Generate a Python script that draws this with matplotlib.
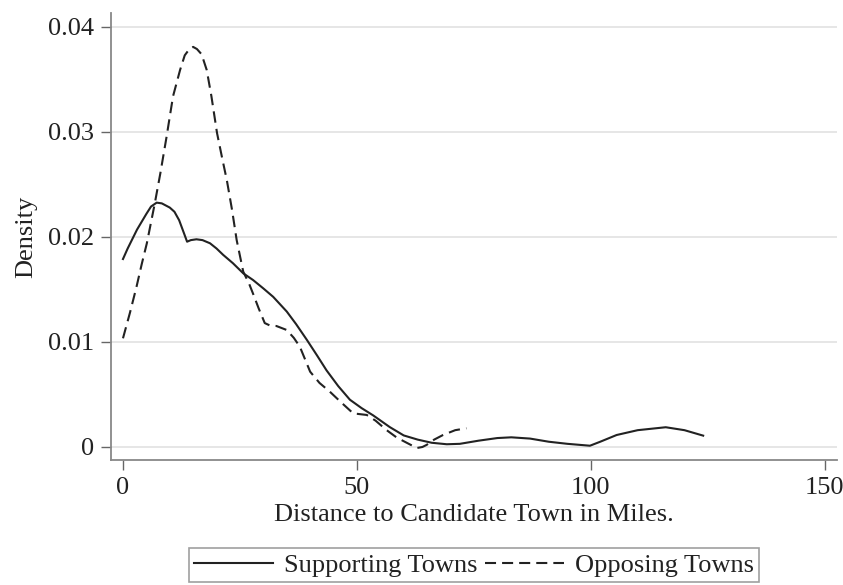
import matplotlib
matplotlib.use("Agg")
import matplotlib.pyplot as plt
from matplotlib.lines import Line2D

# kernel density curves
support_x = [0, 1, 3, 5, 6, 7.2, 8.3, 10, 11, 12, 13, 13.7, 14.5, 15.7, 17,
             18.6, 20, 21.4, 23.5, 25.7, 27.8, 30, 32.1, 35, 37, 39.3, 41.5,
             43.5, 46, 48.5, 51, 53.5, 57, 60, 63, 66, 69.2, 72, 76, 80, 83,
             87, 91, 95, 99.8, 102, 105.5, 110, 116, 120, 124]
support_y = [0.0179, 0.0189, 0.0207, 0.0222, 0.0229, 0.02327, 0.0232, 0.0228,
             0.0224, 0.0216, 0.0204, 0.01955, 0.0197, 0.01978, 0.0197, 0.0194,
             0.0189, 0.0183, 0.0175, 0.01654, 0.0159, 0.0151, 0.0143, 0.0129,
             0.0117, 0.0102, 0.0087, 0.0073, 0.0058, 0.0045, 0.0037, 0.0030,
             0.0019, 0.0011, 0.0007, 0.0004, 0.00026, 0.0003, 0.0006, 0.00085,
             0.00092, 0.0008, 0.0005, 0.0003, 0.00012, 0.0005, 0.00114, 0.0016,
             0.00188, 0.0016, 0.00108]

oppose_x = [0, 1.5, 2.9, 4, 5.1, 6.8, 8, 9.3, 10.7, 12.2, 13.2, 14.2, 15, 15.8,
            16.8, 17.9, 18.9, 20.1, 21.2, 22.2, 23.3, 24.3, 25.7, 27, 27.8, 29,
            30.3, 31.5, 32.8, 35, 36.5, 37.8, 40, 42, 44.2, 46.5, 49.2, 52.1,
            54, 56.3, 58.5, 60.6, 62.8, 64, 64.9, 66.5, 68.4, 71, 73.4]
oppose_y = [0.01035, 0.0128, 0.01527, 0.0174, 0.0194, 0.0232, 0.0261, 0.0295,
            0.0334, 0.0359, 0.0373, 0.0379, 0.0381, 0.0379, 0.0374, 0.0359,
            0.0334, 0.0299, 0.0275, 0.0254, 0.0226, 0.0197, 0.0167, 0.0155,
            0.0146, 0.0132, 0.0118, 0.01155, 0.01152, 0.01114, 0.0104, 0.00955,
            0.00717, 0.0061, 0.00527, 0.0043, 0.0032, 0.00305, 0.0025, 0.00162,
            0.0009, 0.00041, -0.0001, 0.0, 0.0002, 0.0007, 0.00114, 0.0016,
            0.00178]

x_ticks = [0, 50, 100, 150]
y_ticks = [0, 0.01, 0.02, 0.03, 0.04]
y_tick_labels = ["0", "0.01", "0.02", "0.03", "0.04"]

plt.rcParams["font.family"] = ["Liberation Serif", "DejaVu Serif"]
plt.rcParams["font.size"] = 19

W, H = 843, 585
fig = plt.figure(figsize=(W / 100, H / 100), dpi=100, facecolor="white")
ax = fig.add_axes([111 / W, 1 - 460 / H, (837 - 111) / W, (460 - 13) / H])

line_col = "#222222"
ax.plot(support_x, support_y, color=line_col, lw=1.5, solid_joinstyle="round")
ax.plot(oppose_x, oppose_y, color=line_col, lw=1.5, dashes=[5.5, 3])

ax.set_xlim(-2.56, 152.6)
ax.set_ylim(-0.00124, 0.04133)
ax.set_xticks(x_ticks)
ax.set_yticks(y_ticks)
ax.set_yticklabels(y_tick_labels)

for side in ("top", "right"):
    ax.spines[side].set_visible(False)
for side in ("left", "bottom"):
    ax.spines[side].set_color("#888888")
    ax.spines[side].set_linewidth(1.3)

ax.tick_params(axis="both", direction="out", length=7, width=1,
               color="#666666", labelcolor="#222222", pad=5)
ax.yaxis.grid(True, color="#e4e4e4", linewidth=1.3)
ax.set_axisbelow(True)

ax.set_ylabel("Density", color="#222222", labelpad=8)
ax.set_xlabel("Distance to Candidate Town in Miles.", color="#222222", labelpad=4)

# legend keys: five dashes fill the dashed key, as in the original
handles = [Line2D([], [], color=line_col, lw=1.5),
           Line2D([], [], color=line_col, lw=1.5, dashes=[5.3, 2.9])]
leg = fig.legend(handles, ["Supporting Towns", "Opposing Towns"],
                 loc="center", bbox_to_anchor=(474 / W, 1 - 565 / H), ncol=2,
                 frameon=True, fancybox=False, edgecolor="#888888",
                 handlelength=3.0, handletextpad=0.4, columnspacing=0.3,
                 borderpad=0.2, borderaxespad=0)
leg.get_frame().set_linewidth(1.2)
for t in leg.get_texts():
    t.set_color("#222222")

fig.savefig("out.png", dpi=100, facecolor="white")
